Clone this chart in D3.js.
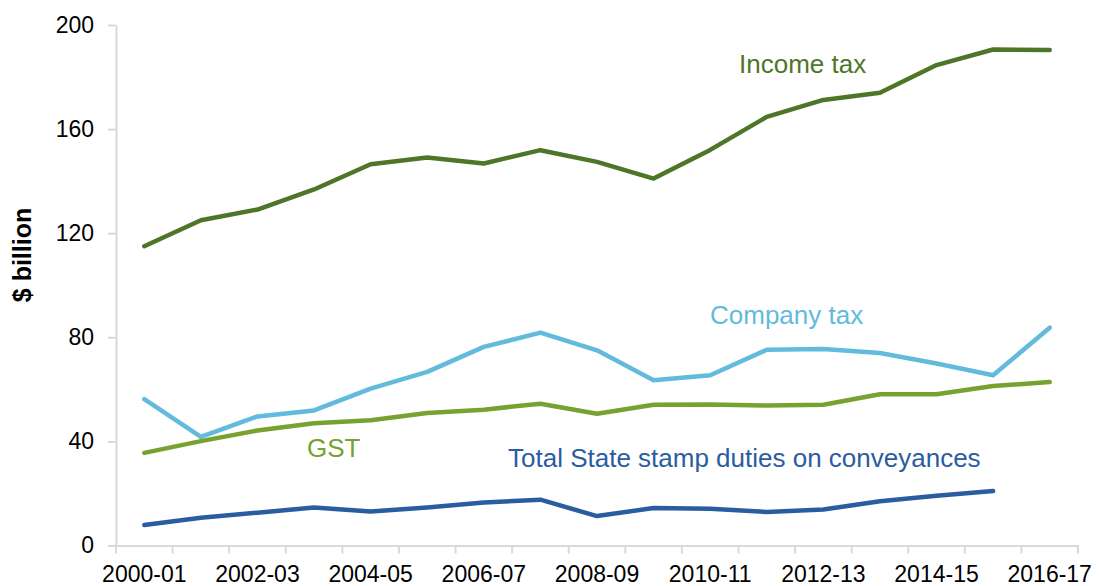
<!DOCTYPE html>
<html>
<head>
<meta charset="utf-8">
<script src="https://cdn.jsdelivr.net/npm/d3@7"></script>
<style>
  body { margin: 0; background: #fff; }
  svg { display: block; font-family: "Liberation Sans", Arial, sans-serif; }
</style>
</head>
<body>
<div id="chart"></div>
<script>
// years on the x axis
const years = ['2000-01','2001-02','2002-03','2003-04','2004-05','2005-06','2006-07','2007-08','2008-09',
  '2009-10','2010-11','2011-12','2012-13','2013-14','2014-15','2015-16','2016-17']
// only every other year gets a label
const yearLabels = ['2000-01','2002-03','2004-05','2006-07','2008-09','2010-11','2012-13','2014-15','2016-17']
const yTicks = [0, 40, 80, 120, 160, 200]

// $ billion
const incomeTax = [115, 125, 129.1, 136.8, 146.5, 149.1, 146.8, 151.9, 147.4, 141, 152, 164.7, 171.2, 174, 184.6, 190.6, 190.4]
const companyTax = [56.2, 41.7, 49.6, 51.9, 60.3, 66.7, 76.3, 81.8, 75.0, 63.5, 65.4, 75.2, 75.5, 74.0, 69.9, 65.4, 83.7]
const gst = [35.6, 40.1, 44.2, 47.0, 48.1, 50.9, 52.2, 54.5, 50.6, 54.1, 54.2, 53.8, 54.1, 58.1, 58.1, 61.3, 62.8]
const stampDuties = [7.9, 10.7, 12.6, 14.6, 13.1, 14.6, 16.5, 17.6, 11.3, 14.4, 14.1, 12.9, 13.8, 17.0, 19.1, 20.9, null]

const width = 1099
const height = 586
const margin = { top: 25, right: 21, bottom: 40, left: 116 }
const axisColor = '#d9d9d9'

const svg = d3.select('#chart')
  .append('svg')
  .attr('width', width)
  .attr('height', height)

const x = d3.scaleBand()
  .domain(years)
  .range([margin.left, width - margin.right])
  .padding(0)

const y = d3.scaleLinear()
  .domain([0, 200])
  .range([height - margin.bottom - 0.5, margin.top])

// y axis
const yAxis = svg.append('g')
  .attr('transform', 'translate(' + margin.left + ',0)')
  .call(d3.axisLeft(y).tickValues(yTicks).tickSize(8).tickPadding(14).tickSizeOuter(0))
yAxis.select('.domain').attr('stroke', axisColor).attr('stroke-width', 2)
yAxis.selectAll('.tick line').attr('stroke', axisColor).attr('stroke-width', 2)
yAxis.selectAll('.tick text')
  .attr('font-size', 23)
  .attr('fill', '#000')
  .attr('font-family', '"Liberation Sans", Arial, sans-serif')

// x axis: labels centred on the years, ticks between them
const xAxis = svg.append('g')
  .attr('transform', 'translate(0,' + y(0) + ')')
  .call(d3.axisBottom(x).tickValues(yearLabels).tickSize(0).tickPadding(20).tickSizeOuter(0))
xAxis.select('.domain').attr('stroke', axisColor).attr('stroke-width', 2)
xAxis.selectAll('.tick text')
  .attr('font-size', 23)
  .attr('fill', '#000')
  .attr('font-family', '"Liberation Sans", Arial, sans-serif')

const boundaries = years.map(d => x(d)).concat([x.range()[1]])
xAxis.selectAll('.boundary')
  .data(boundaries)
  .enter()
  .append('line')
  .attr('class', 'boundary')
  .attr('x1', d => d)
  .attr('x2', d => d)
  .attr('y1', 0)
  .attr('y2', 8)
  .attr('stroke', axisColor)
  .attr('stroke-width', 2)

// axis title
svg.append('text')
  .attr('transform', 'translate(31,255) rotate(-90)')
  .attr('text-anchor', 'middle')
  .attr('font-size', 25)
  .attr('font-weight', 'bold')
  .text('$ billion')

const series = [
  { name: 'Income tax', values: incomeTax, color: '#4e7628', lx: 739, ly: 73 },
  { name: 'Company tax', values: companyTax, color: '#62bbdc', lx: 710, ly: 324 },
  { name: 'GST', values: gst, color: '#78a22f', lx: 307, ly: 457 },
  { name: 'Total State stamp duties on conveyances', values: stampDuties, color: '#2a5d9f', lx: 508, ly: 467 }
]

const line = d3.line()
  .defined(d => d[1] !== null)
  .x(d => x(d[0]) + x.bandwidth() / 2)
  .y(d => y(d[1]))

series.forEach(s => {
  svg.append('path')
    .attr('d', line(years.map((yr, i) => [yr, s.values[i]])))
    .attr('fill', 'none')
    .attr('stroke', s.color)
    .attr('stroke-width', 4.5)
    .attr('stroke-linejoin', 'round')
    .attr('stroke-linecap', 'round')
  svg.append('text')
    .attr('x', s.lx)
    .attr('y', s.ly)
    .attr('font-size', 26)
    .attr('fill', s.color)
    .text(s.name)
})
</script>
</body>
</html>
